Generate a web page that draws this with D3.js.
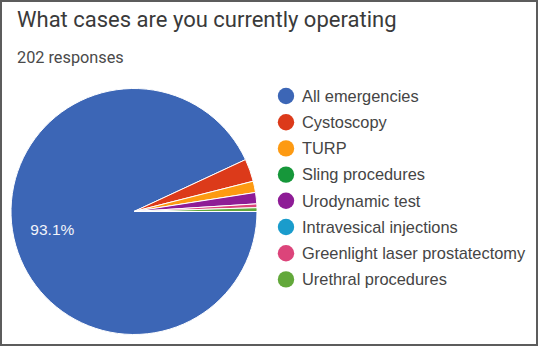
<!DOCTYPE html>
<html>
<head>
<meta charset="utf-8">
<script src="https://cdn.jsdelivr.net/npm/d3@7"></script>
<style>
  html, body { margin: 0; padding: 0; background: #fff; }
  svg { display: block; }
</style>
</head>
<body>
<svg id="chart" width="538" height="346"></svg>
<script>
// Survey answers (202 responses)
const categories = [
  "All emergencies",
  "Cystoscopy",
  "TURP",
  "Sling procedures",
  "Urodynamic test",
  "Intravesical injections",
  "Greenlight laser prostatectomy",
  "Urethral procedures"
];
const counts = [188, 6, 3, 0, 3, 0, 1, 1];
const colors = ["#3c66b6", "#dc3a1a", "#fd9a12", "#16973a", "#8e1c96", "#1a9ccc", "#dc447a", "#62a83a"];
const titleText = "What cases are you currently operating";
const subtitleText = "202 responses";

const svg = d3.select("#chart");
const W = 538, H = 346;

// frame
svg.append("rect")
  .attr("x", 1).attr("y", 1).attr("width", W - 2).attr("height", H - 2)
  .attr("fill", "#fff").attr("stroke", "#5c5c5c").attr("stroke-width", 2);

svg.append("text")
  .attr("x", 17).attr("y", 27)
  .attr("font-family", "Roboto, 'Liberation Sans', Arial, sans-serif")
  .attr("font-size", 22).attr("fill", "#3a3a3a")
  .text(titleText);

svg.append("text")
  .attr("x", 17).attr("y", 63)
  .attr("font-family", "Roboto, 'Liberation Sans', Arial, sans-serif")
  .attr("font-size", 16.3).attr("fill", "#4a4a4a")
  .text(subtitleText);

// pie
const cx = 134, cy = 211.5, r = 123;
const total = d3.sum(counts);
const color = d3.scaleOrdinal().domain(categories).range(colors);
const pie = d3.pie()
  .sort(null)
  .value(d => d.v)
  .startAngle(Math.PI / 2)
  .endAngle(Math.PI / 2 + 2 * Math.PI);
const data = categories.map((c, i) => ({ c, v: counts[i] }));
const arcs = pie(data);
const arc = d3.arc().innerRadius(0).outerRadius(r);

const g = svg.append("g").attr("transform", `translate(${cx},${cy})`);
g.selectAll("path")
  .data(arcs.filter(a => a.data.v > 0))
  .join("path")
  .attr("d", arc)
  .attr("fill", d => color(d.data.c))
  .attr("stroke", "#fff")
  .attr("stroke-width", 1);

// percentage label on slices large enough to hold one
const labelArc = d3.arc().innerRadius(r * 0.68).outerRadius(r * 0.68);
g.selectAll("text.pct")
  .data(arcs.filter(a => a.data.v / total > 0.05))
  .join("text")
  .attr("class", "pct")
  .attr("transform", d => `translate(${labelArc.centroid(d)})`)
  .attr("text-anchor", "middle")
  .attr("dy", "0.35em")
  .attr("font-family", "'Liberation Sans', Arial, sans-serif")
  .attr("font-size", 15.5)
  .attr("fill", "#f2f4fa")
  .text(d => (d.data.v / total * 100).toFixed(1) + "%");

// legend
const lx = 286, ly0 = 96, step = 26.2;
const lg = svg.append("g");
const items = lg.selectAll("g").data(categories).join("g")
  .attr("transform", (d, i) => `translate(${lx},${ly0 + i * step})`);
items.append("circle").attr("r", 8.2).attr("fill", d => color(d));
items.append("text")
  .attr("x", 16).attr("dy", "0.35em")
  .attr("font-family", "'Liberation Sans', Arial, sans-serif")
  .attr("font-size", 16.4)
  .attr("fill", "#454545")
  .text(d => d);
</script>
</body>
</html>
